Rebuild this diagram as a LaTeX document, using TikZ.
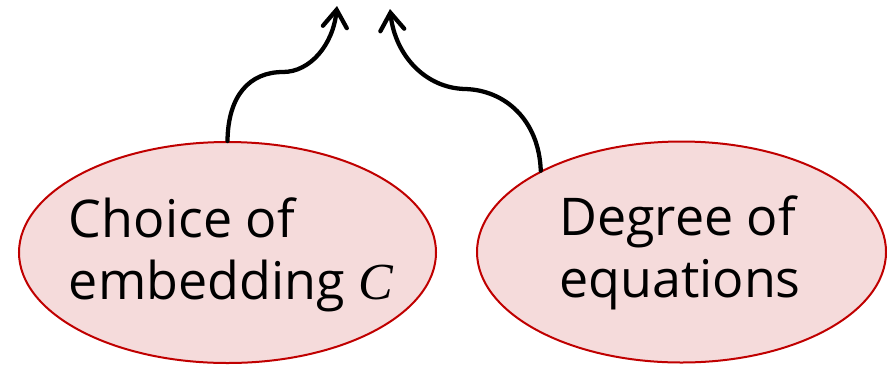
\documentclass[tikz,border=0pt]{standalone}
\usepackage{fontspec}
\setmainfont{Open Sans}
\newfontfamily\varfont{Liberation Serif}
\usetikzlibrary{arrows.meta,shapes.geometric}
\definecolor{bubblefill}{HTML}{F5DBDB}
\definecolor{bubbleline}{HTML}{C00000}
\begin{document}
\begin{tikzpicture}[x=0.75pt,y=-0.75pt,
  bubble/.style={ellipse,draw=bubbleline,fill=bubblefill,line width=1.5pt,
    inner sep=0pt,minimum width=312.75pt,minimum height=165.75pt},
  caption/.style={inner sep=0pt,align=left,font=\fontsize{39}{47}\selectfont},
  link/.style={line width=3.2pt,line cap=round,
    -{Straight Barb[length=13pt,width=18pt,line cap=round]}}]
\useasboundingbox (0,0) rectangle (887,365);
\node[bubble] (L) at (227.5,252.5) {};
\node[bubble,minimum width=306.75pt] (R) at (681.5,252) {};
\node[caption] (Ltext) at (231,255) {Choice of\\embedding {\varfont\itshape C}};
\node[caption] (Rtext) at (680,253) {Degree of\\equations};
\coordinate (tipL) at (337,6);
\coordinate (tipR) at (390,9);
\draw[link] (L.north) .. controls (228,95) and (250,72) .. (283,72)
  .. controls (310,72) and (333,45) .. (tipL);
\draw[link] (R.150.7) .. controls (539,120) and (505,90) .. (465,89)
  .. controls (425,88) and (395,55) .. (tipR);
\end{tikzpicture}
\end{document}
